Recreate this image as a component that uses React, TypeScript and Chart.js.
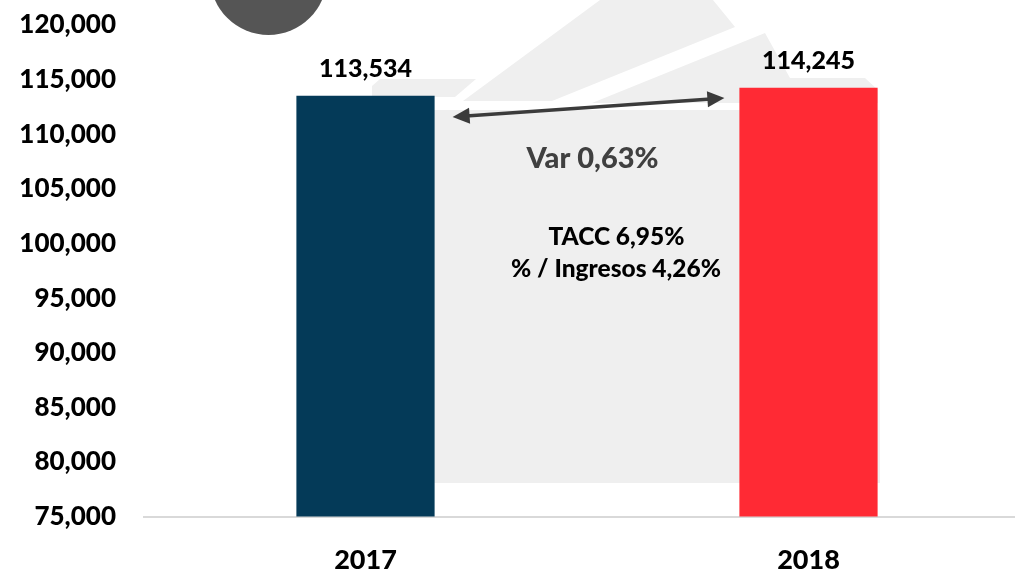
import { useEffect, useRef } from "react";
import { Chart, registerables } from "chart.js";

Chart.register(...registerables);

const categories = ["2017", "2018"];
const values = [113534, 114245];
const barColors = ["#043A58", "#FF2A34"];
const yMin = 75000;
const yMax = 120000;
const yStep = 5000;
const varLabel = "Var 0,63%";
const taccLabel = "TACC 6,95%";
const ingresosLabel = "% / Ingresos 4,26%";

const FONT = "Lato, 'Open Sans', sans-serif";
const W = 900;

const decorPlugin = {
  id: "decor",
  beforeDraw(chart: any) {
    const ctx = chart.ctx;
    ctx.save();
    // dark circle at top
    ctx.fillStyle = "#555555";
    ctx.beginPath();
    ctx.arc(268.5, -23.5, 58.5, 0, Math.PI * 2);
    ctx.fill();
    // light watermark
    ctx.fillStyle = "#efefef";
    const poly = (pts: number[][]) => {
      ctx.beginPath();
      ctx.moveTo(pts[0][0], pts[0][1]);
      for (let i = 1; i < pts.length; i++) ctx.lineTo(pts[i][0], pts[i][1]);
      ctx.closePath();
      ctx.fill();
    };
    poly([[372, 110], [880, 110], [880, 483], [372, 483]]);
    poly([[380, 79], [476, 79], [455, 97], [372, 97], [372, 86]]);
    poly([[463, 101], [600, 0], [713, 0], [735, 27], [552, 101]]);
    poly([[592, 103], [765, 33], [790, 78], [865, 78], [878, 90], [878, 103]]);
    ctx.restore();
  },
  afterDatasetsDraw(chart: any) {
    const ctx = chart.ctx;
    const meta = chart.getDatasetMeta(0);
    ctx.save();
    // value labels
    ctx.fillStyle = "#000000";
    ctx.font = `${W} 25px ${FONT}`;
    ctx.textAlign = "center";
    ctx.textBaseline = "alphabetic";
    meta.data.forEach((bar: any, i: number) => {
      ctx.fillText(values[i].toLocaleString("en-US"), bar.x, bar.y - 19);
    });
    // arrow between bars
    const b0 = meta.data[0];
    const b1 = meta.data[1];
    const x1 = b0.x + b0.width / 2 + 18;
    const y1 = 117;
    const x2 = b1.x - b1.width / 2 - 15;
    const y2 = 98;
    const ang = Math.atan2(y2 - y1, x2 - x1);
    const head = 17;
    const hw = 8;
    ctx.strokeStyle = "#3b3b3b";
    ctx.fillStyle = "#3b3b3b";
    ctx.lineWidth = 3.5;
    ctx.beginPath();
    ctx.moveTo(x1 + Math.cos(ang) * head * 0.8, y1 + Math.sin(ang) * head * 0.8);
    ctx.lineTo(x2 - Math.cos(ang) * head * 0.8, y2 - Math.sin(ang) * head * 0.8);
    ctx.stroke();
    const drawHead = (tx: number, ty: number, a: number) => {
      ctx.beginPath();
      ctx.moveTo(tx, ty);
      ctx.lineTo(tx - Math.cos(a) * head - Math.sin(a) * hw, ty - Math.sin(a) * head + Math.cos(a) * hw);
      ctx.lineTo(tx - Math.cos(a) * head + Math.sin(a) * hw, ty - Math.sin(a) * head - Math.cos(a) * hw);
      ctx.closePath();
      ctx.fill();
    };
    drawHead(x2, y2, ang);
    drawHead(x1, y1, ang + Math.PI);
    // texts
    ctx.textAlign = "center";
    ctx.fillStyle = "#404040";
    ctx.font = `${W} 29px ${FONT}`;
    ctx.fillText(varLabel, 592.5, 168);
    ctx.fillStyle = "#000000";
    ctx.font = `${W} 24.5px ${FONT}`;
    ctx.fillText(taccLabel, 616.5, 245);
    ctx.fillText(ingresosLabel, 616, 277);
    ctx.restore();
  },
};

export default function App() {
  const ref = useRef<HTMLCanvasElement | null>(null);
  useEffect(() => {
    document.body.style.overflow = "hidden";
    if (!ref.current) return;
    const chart = new Chart(ref.current, {
      type: "bar",
      data: {
        labels: categories,
        datasets: [
          {
            data: values,
            backgroundColor: barColors,
            barPercentage: 0.312,
            categoryPercentage: 1,
          },
        ],
      },
      options: {
        animation: false,
        responsive: true,
        maintainAspectRatio: false,
        layout: { padding: { top: 25, right: 0, bottom: -32, left: 0 } },
        plugins: { legend: { display: false }, tooltip: { enabled: false } },
        scales: {
          x: {
            grid: { display: false, drawTicks: false },
            border: { display: true, color: "#d9d9d9", width: 2 },
            ticks: {
              color: "#000000",
              font: { family: FONT, weight: W, size: 27 },
              padding: 27,
            },
          },
          y: {
            min: yMin,
            max: yMax,
            grid: { display: false, drawTicks: true, tickLength: 28 },
            border: { display: false },
            afterFit: (scale: any) => {
              scale.width = 144;
            },
            ticks: {
              stepSize: yStep,
              color: "#000000",
              padding: 0,
              font: { family: FONT, weight: W, size: 26 },
              callback: (v: any) => Number(v).toLocaleString("en-US"),
            },
          },
        },
      },
      plugins: [decorPlugin],
    });
    return () => chart.destroy();
  }, []);
  return (
    <div style={{ position: "fixed", left: 0, top: 0, width: 1030, height: 571 }}>
      <canvas ref={ref} />
    </div>
  );
}
